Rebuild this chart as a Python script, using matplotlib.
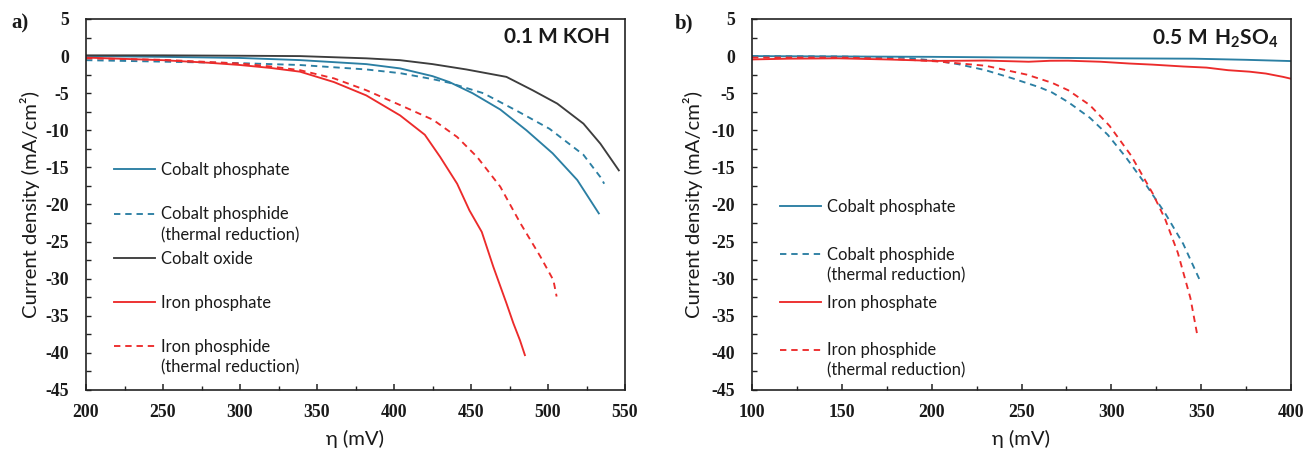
import matplotlib
matplotlib.use("Agg")
import matplotlib.pyplot as plt
from matplotlib.ticker import MultipleLocator
from matplotlib.font_manager import FontProperties

plt.rcParams['axes.unicode_minus'] = False
plt.rcParams['mathtext.fontset'] = 'custom'
plt.rcParams['mathtext.rm'] = 'Lato'
plt.rcParams['mathtext.bf'] = 'Lato:bold'

BLUE = '#2b7fa3'
RED = '#ec2b2b'
GREY = '#3d3d3d'
TEXT = '#1a1a1a'

# ---------------- (a) 0.1 M KOH ----------------
koh_co_phosphate_eta = [200, 250, 300, 339, 382, 404, 425, 436, 451, 469, 486, 503, 519, 533]
koh_co_phosphate_j = [0.0, -0.1, -0.25, -0.54, -1.08, -1.66, -2.7, -3.5, -5.0, -7.2, -10.0, -13.1, -16.7, -21.2]

koh_co_phosphide_eta = [200, 225, 250, 300, 339, 382, 404, 425, 436, 458, 480, 501, 523, 534, 536.5]
koh_co_phosphide_j = [-0.55, -0.65, -0.75, -0.95, -1.2, -1.8, -2.3, -3.1, -3.6, -5.0, -7.4, -9.8, -13.3, -16.3, -17.2]

koh_co_oxide_eta = [200, 250, 300, 339, 382, 404, 425, 447, 473, 490, 506, 523, 534, 546]
koh_co_oxide_j = [0.1, 0.1, 0.05, 0.0, -0.3, -0.55, -1.08, -1.8, -2.8, -4.6, -6.4, -9.1, -11.8, -15.4]

koh_fe_phosphate_eta = [200, 250, 280, 300, 320, 339, 361, 382, 404, 420, 430, 441, 449, 457, 464.5, 473, 477.5, 481.8, 485]
koh_fe_phosphate_j = [-0.2, -0.55, -0.9, -1.2, -1.6, -2.1, -3.5, -5.3, -8.0, -10.6, -13.6, -17.2, -20.8, -23.7, -28.4, -33.3, -36.0, -38.3, -40.3]

koh_fe_phosphide_eta = [200, 250, 300, 320, 339, 361, 382, 404, 425.5, 441, 454, 469, 482, 495, 503.5, 505.6]
koh_fe_phosphide_j = [-0.3, -0.5, -1.0, -1.4, -1.9, -3.0, -4.6, -6.6, -8.6, -10.9, -13.6, -17.6, -22.5, -27.0, -30.2, -32.4]

# ---------------- (b) 0.5 M H2SO4 ----------------
acid_co_phosphate_eta = [100, 150, 200, 253, 300, 346, 375, 400]
acid_co_phosphate_j = [0.0, -0.05, -0.1, -0.2, -0.3, -0.35, -0.5, -0.67]

acid_co_phosphide_eta = [100, 150, 183, 202, 215, 230, 245, 260, 267, 276, 288, 298, 308, 320, 330, 340, 350]
acid_co_phosphide_j = [0.0, -0.05, -0.2, -0.6, -1.1, -1.9, -3.0, -4.2, -4.9, -6.2, -8.3, -10.6, -13.6, -17.6, -21.2, -25.3, -30.6]

acid_fe_phosphate_eta = [100, 120, 148, 175, 202, 230, 254, 266, 276, 294, 310, 323, 340, 353, 365, 377, 386, 395.6, 400]
acid_fe_phosphate_j = [-0.45, -0.35, -0.3, -0.45, -0.65, -0.6, -0.76, -0.63, -0.62, -0.76, -1.0, -1.15, -1.4, -1.55, -1.9, -2.1, -2.35, -2.8, -3.05]

acid_fe_phosphide_eta = [100, 150, 180, 202, 230, 253, 267, 276, 288, 299, 311, 323, 330, 337, 344, 348]
acid_fe_phosphide_j = [-0.2, -0.2, -0.4, -0.7, -1.3, -2.5, -3.6, -4.6, -6.6, -9.4, -13.4, -18.5, -22.0, -26.5, -32.6, -37.8]

LW = 1.35
DASH = (3.4, 2.6)

tick_font = FontProperties(family='Liberation Serif', weight='bold', size=12.8)
label_font = FontProperties(family='Lato', size=14.6)
legend_font = FontProperties(family='Lato', size=11.9)
title_font = FontProperties(family='Lato', weight='bold', size=15)
panel_font = FontProperties(family='Liberation Serif', weight='bold', size=15)

fig = plt.figure(figsize=(13.06, 4.51), dpi=100)
ax_a = fig.add_axes([86 / 1306, 61 / 451, 539 / 1306, 371 / 451])
ax_b = fig.add_axes([752 / 1306, 61 / 451, 539 / 1306, 371 / 451])


def style_axes(ax, xlim, ylabel_x):
    ax.set_xlim(*xlim)
    ax.set_ylim(-45, 5)
    ax.xaxis.set_major_locator(MultipleLocator(50))
    ax.xaxis.set_minor_locator(MultipleLocator(25))
    ax.yaxis.set_major_locator(MultipleLocator(5))
    ax.yaxis.set_minor_locator(MultipleLocator(2.5))
    ax.tick_params(axis='x', which='major', direction='in', length=4.5, width=1.1,
                   pad=10, top=False, color='#222222')
    ax.tick_params(axis='x', which='minor', direction='in', length=3.2, width=1.0,
                   top=False, color='#222222')
    ax.tick_params(axis='y', which='both', direction='in', length=3.6, width=1.0,
                   pad=12, right=False, color='#222222')
    for lab in ax.get_xticklabels() + ax.get_yticklabels():
        lab.set_fontproperties(tick_font)
        lab.set_color(TEXT)
    for sp in ax.spines.values():
        sp.set_linewidth(1.2)
        sp.set_color('#222222')
    ax.set_xlabel('η (mV)', fontproperties=label_font, color=TEXT, va='top')
    ax.xaxis.set_label_coords(0.5, -0.108)
    ax.set_ylabel('Current density (mA/cm²)', fontproperties=label_font, color=TEXT)
    ax.yaxis.set_label_coords(ylabel_x, 0.5)


def add_legend(ax, handles, labels, second_lines, top, spacing):
    leg = ax.legend(handles, labels, loc='upper left', bbox_to_anchor=(0.052, top),
                    frameon=False, borderpad=0, borderaxespad=0, handlelength=2.5,
                    handletextpad=0.36, labelspacing=spacing, prop=legend_font)
    for txt, extra in zip(leg.get_texts(), second_lines):
        txt.set_color(TEXT)
        if extra:
            ax.annotate(extra, xy=(0, 0), xycoords=txt, xytext=(0, -17.5),
                        textcoords='offset pixels', ha='left', va='baseline',
                        fontproperties=legend_font, color=TEXT, zorder=10,
                        annotation_clip=False)
    return leg


# ---- panel (a)
la1, = ax_a.plot(koh_co_phosphate_eta, koh_co_phosphate_j, color=BLUE, lw=LW)
la2, = ax_a.plot(koh_co_phosphide_eta, koh_co_phosphide_j, color=BLUE, lw=LW, dashes=DASH)
la3, = ax_a.plot(koh_co_oxide_eta, koh_co_oxide_j, color=GREY, lw=LW)
la4, = ax_a.plot(koh_fe_phosphate_eta, koh_fe_phosphate_j, color=RED, lw=LW)
la5, = ax_a.plot(koh_fe_phosphide_eta, koh_fe_phosphide_j, color=RED, lw=LW, dashes=DASH)
style_axes(ax_a, (200, 550), -0.085)
add_legend(ax_a, [la1, la2, la3, la4, la5],
           ['Cobalt phosphate', 'Cobalt phosphide', 'Cobalt oxide',
            'Iron phosphate', 'Iron phosphide'],
           [None, '(thermal reduction)', None, None, '(thermal reduction)'],
           0.614, 1.71)
ax_a.text(0.972, 0.951, '0.1 M KOH', transform=ax_a.transAxes, ha='right', va='center',
          fontproperties=title_font, color=TEXT)

# ---- panel (b)
lb1, = ax_b.plot(acid_co_phosphate_eta, acid_co_phosphate_j, color=BLUE, lw=LW)
lb2, = ax_b.plot(acid_co_phosphide_eta, acid_co_phosphide_j, color=BLUE, lw=LW, dashes=DASH)
lb3, = ax_b.plot(acid_fe_phosphate_eta, acid_fe_phosphate_j, color=RED, lw=LW)
lb4, = ax_b.plot(acid_fe_phosphide_eta, acid_fe_phosphide_j, color=RED, lw=LW, dashes=DASH)
style_axes(ax_b, (100, 400), -0.091)
add_legend(ax_b, [lb1, lb2, lb3, lb4],
           ['Cobalt phosphate', 'Cobalt phosphide', 'Iron phosphate', 'Iron phosphide'],
           [None, '(thermal reduction)', None, '(thermal reduction)'],
           0.5145, 1.92)
ax_b.text(0.976, 0.946, r'$\mathbf{0.5\ M\ H_2SO_4}$', transform=ax_b.transAxes,
          ha='right', va='center', fontproperties=title_font, color=TEXT)

fig.text(11 / 1306, 1 - 23 / 451, 'a)', ha='left', va='center', fontproperties=panel_font, color=TEXT)
fig.text(675 / 1306, 1 - 23 / 451, 'b)', ha='left', va='center', fontproperties=panel_font, color=TEXT)

fig.savefig('out.png', dpi=100, facecolor='white')
